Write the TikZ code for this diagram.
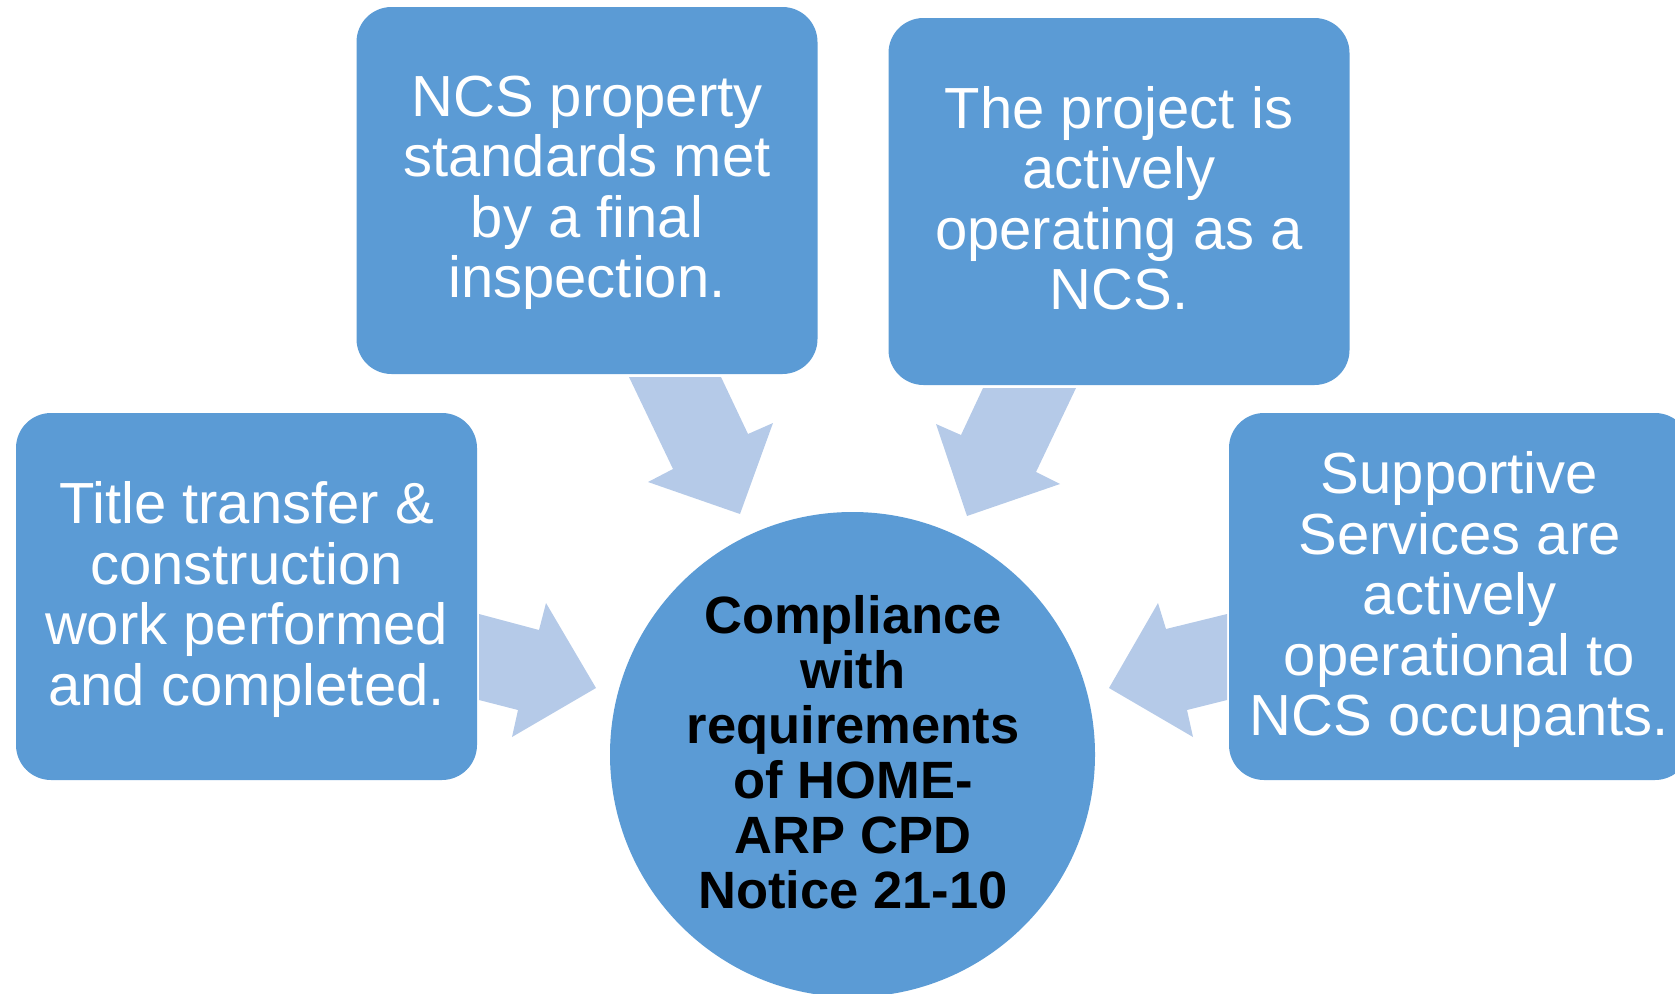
\documentclass[tikz,border=0pt]{standalone}
\usepackage{fontspec}
\setmainfont{Liberation Sans}
\definecolor{boxblue}{RGB}{91,155,213}
\definecolor{arrowblue}{RGB}{181,202,232}
\begin{document}
\begin{tikzpicture}[x=1pt,y=-1pt,
  box/.style={fill=boxblue, rounded corners=35pt, minimum width=461pt, minimum height=367pt,
    inner sep=0pt},
  boxtext/.style={text=white, align=center, inner sep=0pt, font=\fontsize{58}{60.5}\selectfont},
  hub/.style={circle, fill=boxblue, minimum size=485pt, inner sep=0pt},
  hubtext/.style={text=black, align=center, inner sep=0pt, font=\bfseries\fontsize{52.5}{55}\selectfont},
  blockarrow/.style={fill=arrowblue, draw=none}]
\useasboundingbox (0,0) rectangle (1675,993);
\clip (0,0) rectangle (1675,993);
% block arrows
\fill[blockarrow] (629,377) -- (721,377) -- (748,434) -- (773,423) -- (740,514) -- (648,482) -- (673,469) -- cycle;
\fill[blockarrow] (1076,388) -- (983,388) -- (961,435) -- (936,424) -- (967,516) -- (1060,484) -- (1036,472) -- cycle;
\fill[blockarrow] (479,614) -- (539,630) -- (546,603) -- (596,688) -- (512,737) -- (518,710) -- (479,700) -- cycle;
\fill[blockarrow] (1227,614) -- (1166,629) -- (1158,603) -- (1109,688) -- (1193,737) -- (1187,710) -- (1227,700) -- cycle;
% hub
\node[hub] (hub) at (852.5,754.5) {};
\node[hubtext] (hubtext) at (853,752)
  {Compliance\\with\\requirements\\of HOME-\\ARP CPD\\Notice 21-10};
% boxes
\node[box] (left) at (246.5,596.5) {};
\node[boxtext] (lefttext) at (246.5,599.5) {Title transfer \&\\construction\\work performed\\and completed.};
\node[box] (topleft) at (587,190.5) {};
\node[boxtext] (tltext) at (587,193) {NCS property\\standards met\\by a final\\inspection.};
\node[box] (topright) at (1119,201.5) {};
\node[boxtext] (trtext) at (1119,198.5) {The project is\\actively\\operating as a\\NCS.};
\node[box] (right) at (1459.5,596.5) {};
\node[boxtext] (righttext) at (1459.5,599.5) {Supportive\\Services are\\actively\\operational to\\NCS occupants.};
\end{tikzpicture}
\end{document}
